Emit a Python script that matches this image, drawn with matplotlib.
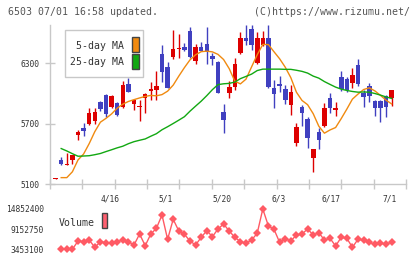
import matplotlib
matplotlib.use("Agg")
import matplotlib.pyplot as plt
import numpy as np
from matplotlib.patches import Rectangle

# ---------------- data ----------------
# candle index -1 .. 59 (index 59 = 7/1)
opens = [5155, 5338, 5295, 5345, 5586, 5662, 5692, 5728, 5913, 5983, 5867,
         5903, 5867, 6089, 5890, 5861, 5950, 6025, 6035, 6389, 6257,
         6362, 6436, 6458, 6617, 6323, 6456, 6488, 6372, 6313, 5811,
         5999, 6065, 6402, 6545, 6637, 6303, 6478, 6551, 6055, 6092,
         6042, 5883, 5510, 5867, 5745, 5361, 5613, 5678, 5950, 5834,
         6158, 6141, 6105, 6280, 6006, 6072, 5923, 5923, 5973, 5956]
highs = [5162, 5371, 5410, 5390, 5642, 5708, 5851, 5851, 5928, 5993, 5980,
         5910, 6121, 6148, 5935, 5933, 6000, 6115, 6221, 6479, 6313,
         6627, 6588, 6498, 6660, 6488, 6508, 6660, 6396, 6320, 5893,
         6121, 6347, 6604, 6677, 6677, 6610, 6620, 6677, 6131, 6171,
         6082, 6082, 5708, 5883, 5767, 5450, 5658, 5900, 6000, 5916,
         6224, 6164, 6253, 6340, 6032, 6099, 5933, 5933, 5983, 6035]
lows = [5155, 5288, 5292, 5305, 5536, 5576, 5690, 5692, 5827, 5765, 5860,
        5780, 5851, 6010, 5834, 5728, 5807, 5933, 5933, 6109, 6049,
        6337, 6353, 6420, 6347, 6287, 6419, 6287, 6280, 5999, 5609,
        5950, 6032, 6386, 6478, 6429, 6290, 6470, 6049, 5857, 6015,
        5893, 5784, 5477, 5675, 5464, 5222, 5447, 5668, 5807, 5774,
        6025, 6015, 6055, 6072, 5867, 5916, 5777, 5718, 5767, 5877]
closes = [5162, 5305, 5300, 5388, 5619, 5629, 5801, 5814, 5847, 5794, 5973,
          5784, 6082, 6015, 5933, 5877, 5993, 6042, 6072, 6214, 6055,
          6436, 6446, 6432, 6362, 6456, 6422, 6406, 6337, 6005, 5735,
          6065, 6290, 6545, 6521, 6478, 6551, 6551, 6065, 5990, 6072,
          5933, 6015, 5668, 5807, 5559, 5447, 5536, 5851, 5851, 5851,
          6042, 6032, 6181, 6092, 5966, 5976, 5851, 5851, 5867, 6032]

# moving averages and volume for index 0 .. 59
ma5 = [5166, 5166, 5224, 5341, 5400, 5503, 5621, 5715, 5753, 5797,
       5854, 5893, 5920, 5938, 5955, 5970, 5980, 5976, 5988, 6022,
       6082, 6171, 6255, 6332, 6382, 6413, 6418, 6411, 6386, 6335,
       6245, 6121, 6094, 6141, 6263, 6382, 6485, 6483, 6412, 6343,
       6260, 6156, 6012, 5930, 5888, 5799, 5675, 5606, 5638, 5662,
       5750, 5844, 5943, 5993, 6038, 6055, 6025, 5981, 5933, 5896]
ma25 = [5454, 5430, 5403, 5378, 5380, 5383, 5393, 5405, 5424, 5442,
        5461, 5477, 5502, 5522, 5536, 5549, 5576, 5601, 5640, 5670,
        5702, 5735, 5769, 5824, 5874, 5923, 5978, 6037, 6087, 6095,
        6099, 6112, 6146, 6168, 6191, 6226, 6240, 6240, 6240, 6240,
        6238, 6238, 6229, 6218, 6201, 6171, 6151, 6117, 6089, 6062,
        6042, 6029, 6019, 6012, 6014, 6012, 5999, 5983, 5965, 5950]
volume = [3453100, 3453100, 3460000, 5800000, 5600000, 6080000, 4020000, 5600000, 5320000, 5150000,
          5600000, 6080000, 5600000, 4670000, 7780000, 4470000, 7780000, 9390000, 13160000, 6280000,
          11940000, 8630000, 7700000, 5800000, 4670000, 6850000, 8720000, 7020000, 9200000, 10610000,
          8630000, 6850000, 5600000, 5150000, 6080000, 7980000, 14852400, 10040000, 9110000, 5430000,
          6450000, 5800000, 7500000, 7780000, 9200000, 7500000, 8150000, 6080000, 6560000, 4390000,
          6850000, 6560000, 4020000, 6280000, 6080000, 5430000, 4870000, 5150000, 4950000, 5430000]

price_ticks = [5100, 5700, 6300]
date_labels = ["4/16", "5/1", "5/20", "6/3", "6/17", "7/1"]
date_pos = [8.7, 18.7, 28.7, 38.9, 48.2, 58.7]

title_left = "6503 07/01 16:58 updated."
title_right = "(C)https://www.rizumu.net/"

# ---------------- styling ----------------
RED = "#DD0000"
BLUE = "#4040C0"
ORANGE = "#F08A10"
GREEN = "#12A812"
VOLC = "#FF5A64"
GRID = "#C8C8C8"
TXT = "#333333"
FONT = "DejaVu Sans Mono"

W, H = 420, 259
fig = plt.figure(figsize=(W / 100, H / 100), dpi=100)
fig.patch.set_facecolor("white")


def fx(px):
    return px / W


def fy(py):
    return 1 - py / H


XLIM = (-2.0, 61.57)

ax = fig.add_axes([fx(50), fy(184.3), fx(406) - fx(50), fy(25) - fy(184.3)])
ax.set_xlim(*XLIM)
ax.set_ylim(5100, 6677)

idx = np.arange(-1, 60)
o = np.array(opens, float)
c = np.array(closes, float)
h = np.array(highs, float)
l = np.array(lows, float)
up = c >= o
cols = np.where(up, RED, BLUE)

ax.vlines(idx, l, h, colors=cols, linewidth=1, zorder=2)
bottoms = np.minimum(o, c)
heights = np.maximum(np.abs(c - o), 9)
ax.bar(idx, heights, bottom=bottoms, width=0.82, color=cols, linewidth=0, zorder=3)

mi = np.arange(0, 60)
ax.plot(mi, ma5, color=ORANGE, lw=1, zorder=4)
ax.plot(mi, ma25, color=GREEN, lw=1, zorder=4)

for s in ["top", "right"]:
    ax.spines[s].set_visible(False)
for s in ["left", "bottom"]:
    ax.spines[s].set_color(GRID)
    ax.spines[s].set_linewidth(1)

ax.set_yticks(price_ticks)
ax.set_yticklabels([str(v) for v in price_ticks], fontfamily=FONT)
ax.tick_params(axis="y", direction="inout", length=6.5, width=1, color=GRID,
               labelsize=5.7, labelcolor=TXT, pad=4.5)
ax.set_xticks(date_pos)
ax.set_xticklabels(date_labels, fontfamily=FONT)
ax.set_xticks(np.linspace(XLIM[0], XLIM[1], 12), minor=True)
ax.tick_params(axis="x", which="major", length=0, labelsize=5.7, labelcolor=TXT, pad=7)
ax.tick_params(axis="x", which="minor", direction="inout", length=6.5, width=1, color=GRID)

# volume panel
vmin, vmax = min(volume), max(volume)
vmid = (vmin + vmax) / 2
axv = fig.add_axes([fx(50), fy(249.3), fx(406) - fx(50), fy(209) - fy(249.3)])
axv.set_xlim(*XLIM)
axv.set_ylim(vmin, vmax)
axv.plot(mi, volume, color=VOLC, lw=1, marker="D", markersize=3.8,
         markeredgewidth=0, clip_on=False)
for s in axv.spines.values():
    s.set_visible(False)
axv.set_xticks([])
axv.set_yticks([vmin, vmid, vmax])
axv.set_yticklabels([f"{int(round(v))}" for v in [vmin, vmid, vmax]], fontfamily=FONT)
axv.tick_params(axis="y", length=0, labelsize=5.7, labelcolor=TXT, pad=4.3)

# titles
fig.text(fx(8), fy(12), title_left, fontfamily=FONT, fontsize=7.1, color="#555555",
         ha="left", va="center")
fig.text(fx(410), fy(12), title_right, fontfamily=FONT, fontsize=7.1, color="#555555",
         ha="right", va="center")

# legend (price)
fig.patches.append(Rectangle((fx(65), fy(77)), fx(143) - fx(65), fy(30) - fy(77),
                             transform=fig.transFigure, facecolor="white",
                             edgecolor=GRID, lw=1, zorder=10))
fig.text(fx(124.5), fy(45.7), "5-day MA", fontfamily=FONT, fontsize=7.1, color=TXT,
         ha="right", va="center", zorder=11)
fig.text(fx(124.5), fy(62.3), "25-day MA", fontfamily=FONT, fontsize=7.1, color=TXT,
         ha="right", va="center", zorder=11)
fig.patches.append(Rectangle((fx(131.5), fy(52)), fx(7), fy(0) - fy(15),
                             transform=fig.transFigure, facecolor=ORANGE,
                             edgecolor="#444444", lw=1, zorder=11))
fig.patches.append(Rectangle((fx(131.5), fy(69)), fx(7), fy(0) - fy(15),
                             transform=fig.transFigure, facecolor=GREEN,
                             edgecolor="#444444", lw=1, zorder=11))

# legend (volume)
fig.text(fx(59), fy(222.5), "Volume", fontfamily=FONT, fontsize=7.1, color=TXT,
         ha="left", va="center", zorder=11)
fig.patches.append(Rectangle((fx(101.5), fy(228)), fx(6), fy(0) - fy(15),
                             transform=fig.transFigure, facecolor="#FF6070",
                             edgecolor="#444444", lw=1, zorder=11))

fig.savefig("out.png", dpi=100, facecolor="white")
